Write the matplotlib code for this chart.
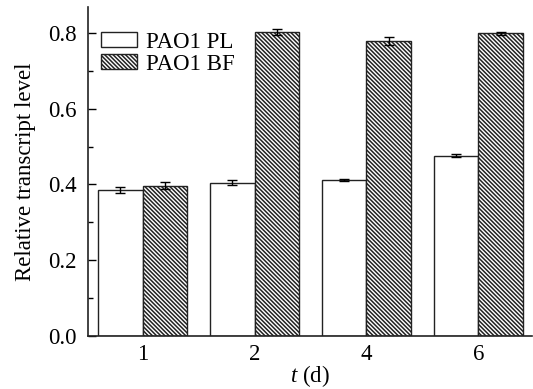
import matplotlib
matplotlib.use("Agg")
import matplotlib.pyplot as plt
import numpy as np

categories = ["1", "2", "4", "6"]
pl_values = [0.385, 0.405, 0.412, 0.476]
pl_errors = [0.008, 0.006, 0.002, 0.003]
bf_values = [0.397, 0.801, 0.778, 0.799]
bf_errors = [0.010, 0.008, 0.010, 0.004]

plt.rcParams['font.family'] = ['Liberation Serif', 'DejaVu Serif']
plt.rcParams['hatch.linewidth'] = 1.1
plt.rcParams['mathtext.fontset'] = 'custom'
plt.rcParams['mathtext.it'] = 'Liberation Serif:italic'
plt.rcParams['mathtext.rm'] = 'Liberation Serif'

fs = 16.5
fig = plt.figure(figsize=(5.33, 3.89), dpi=100)
ax = fig.add_axes([0.165, 0.136, 0.833, 0.846])

x = np.arange(len(categories))
w = 0.4
ax.bar(x - w/2, pl_values, w, color='white', edgecolor='#222222', linewidth=1.0,
       yerr=pl_errors, capsize=3.5, error_kw=dict(elinewidth=1, capthick=1, ecolor='black'),
       label='PAO1 PL')
ax.bar(x + w/2, bf_values, w, color='white', edgecolor='#222222', linewidth=1.0,
       hatch='\\' * 8, yerr=bf_errors, capsize=3.5,
       error_kw=dict(elinewidth=1, capthick=1, ecolor='black'), label='PAO1 BF')

ax.set_xlim(-0.49, 3.48)
ax.set_ylim(0, 0.868)
ax.set_xticks(x)
ax.set_xticklabels(categories)
ax.set_yticks([0.0, 0.2, 0.4, 0.6, 0.8])
ax.set_yticklabels(['0.0', '0.2', '0.4', '0.6', '0.8'])
ax.set_yticks([0.1, 0.3, 0.5, 0.7], minor=True)
ax.tick_params(axis='y', which='major', direction='in', length=6, width=1, labelsize=fs, pad=8)
ax.tick_params(axis='y', which='minor', direction='in', length=3.5, width=1)
ax.tick_params(axis='x', which='both', length=0, labelsize=fs, pad=6)
for s in ['top', 'right']:
    ax.spines[s].set_visible(False)
for s in ['left', 'bottom']:
    ax.spines[s].set_linewidth(1.2)
    ax.spines[s].set_color('#222222')

ax.set_ylabel('Relative transcript level', fontsize=fs, labelpad=9)
ax.set_xlabel(r'$t$ (d)', fontsize=fs, labelpad=-2)

leg = ax.legend(loc='upper left', bbox_to_anchor=(0.03, 0.925), frameon=False,
                fontsize=fs, handlelength=1.55, handleheight=0.6,
                handletextpad=0.4, labelspacing=0.05, borderaxespad=0,
                borderpad=0)

fig.savefig('out.png', dpi=100)
